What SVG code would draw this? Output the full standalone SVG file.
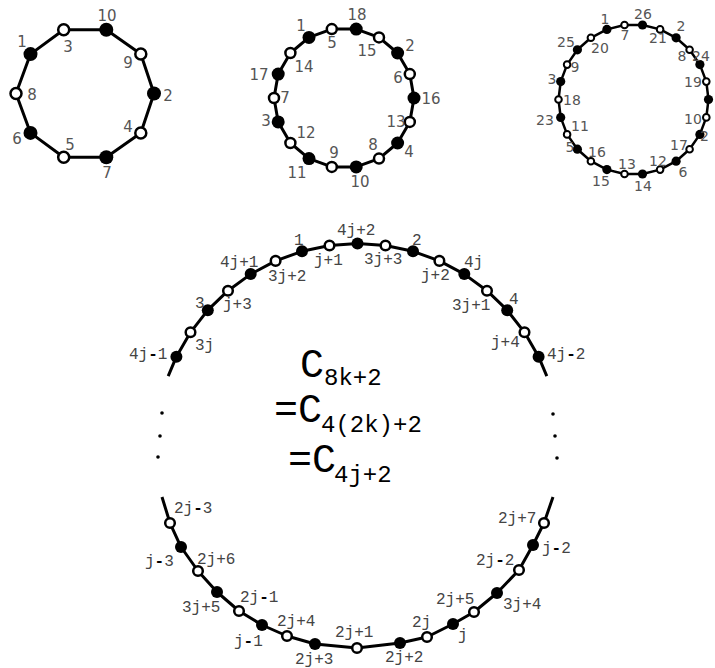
<svg xmlns="http://www.w3.org/2000/svg" width="715" height="668" viewBox="0 0 715 668">
<style>
.e{fill:none;stroke:#000;stroke-width:3;stroke-linejoin:round}
.e3{stroke-width:2.5}
.f{fill:#000}
.o{fill:#fff;stroke:#000;stroke-width:2.5}
.o3{stroke-width:2}
.ls{font-family:"DejaVu Sans",sans-serif;font-size:15px;fill:#555;text-anchor:middle}
.lt{font-family:"DejaVu Sans",sans-serif;font-size:14px;fill:#555;text-anchor:middle}
.lb{font-family:"Liberation Mono",monospace;font-size:16px;fill:#444}
.mn{fill:#000;font-weight:bold}
.big{font-family:"Liberation Mono",monospace;font-size:40px;fill:#000}
.sub{font-family:"Liberation Mono",monospace;font-size:24px;fill:#000}
</style>
<rect width="715" height="668" fill="#fff"/>
<g id="connectors">
<polygon class="e" points="63.7,29.8 106.3,29.8 140.8,54.1 154,93.5 140.8,132.9 106.3,157.2 63.7,157.2 30.5,132.9 16,93.5 30.5,54.1"/>
<polygon class="e" points="331.8,29.1 356.2,29.1 379,37.4 397.6,53 409.8,74.1 414,98 409.8,121.9 397.6,143 379,158.6 356.2,166.9 331.8,166.9 309,158.6 290.4,143 278.2,121.9 274,98 278.2,74.1 290.4,53 309,37.4"/>
<polygon class="e e3" points="624.5,25 642.5,25 660.1,29.4 676.1,37.8 689.6,49.8 699.9,64.6 706.3,81.6 708.5,99.5 706.3,117.4 699.9,134.4 689.6,149.2 676.1,161.2 660.1,169.6 642.5,174 624.5,174 606.9,169.6 590.9,161.2 577.4,149.2 567.1,134.4 560.7,117.4 558.5,99.5 560.7,81.6 567.1,64.6 577.4,49.8 590.9,37.8 606.9,29.4"/>
<polyline class="e" points="168.2,376.1 176.4,356.7 190.5,332.3 207.8,310.2 228,290.7 250.7,274.1 275.6,260.9 302,251.3 329.5,245.5 357.5,243.5 385.5,245.5 413,251.3 439.4,260.9 464.3,274.1 487,290.7 507.2,310.2 524.5,332.3 538.6,356.7 546.8,376.1"/>
<polyline class="e" points="162,497 170,523 181,547 198,571 217,592 239,611 262,625 287,636 315,644 357,648 400,643 427,637 453,624 474,612 497,593 519,570 533,545 544,523 553,497"/>
</g>
<g id="c10">
<g id="a3"><circle class="o" cx="63.7" cy="29.8" r="5.5"/><text class="ls" x="68" y="52">3</text></g>
<g id="a10"><circle class="f" cx="106.3" cy="29.8" r="7"/><text class="ls" x="107" y="21">10</text></g>
<g id="a9"><circle class="o" cx="140.8" cy="54.1" r="5.5"/><text class="ls" x="128" y="68">9</text></g>
<g id="a2"><circle class="f" cx="154" cy="93.5" r="7"/><text class="ls" x="168" y="101">2</text></g>
<g id="a4"><circle class="o" cx="140.8" cy="132.9" r="5.5"/><text class="ls" x="128" y="132">4</text></g>
<g id="a7"><circle class="f" cx="106.3" cy="157.2" r="7"/><text class="ls" x="107" y="178">7</text></g>
<g id="a5"><circle class="o" cx="63.7" cy="157.2" r="5.5"/><text class="ls" x="70" y="150">5</text></g>
<g id="a6"><circle class="f" cx="30.5" cy="132.9" r="7"/><text class="ls" x="17" y="144">6</text></g>
<g id="a8"><circle class="o" cx="16" cy="93.5" r="5.5"/><text class="ls" x="32" y="100">8</text></g>
<g id="a1"><circle class="f" cx="30.5" cy="54.1" r="7"/><text class="ls" x="22" y="47">1</text></g>
</g>
<g id="c18">
<g id="b5"><circle class="o" cx="331.8" cy="29.1" r="5"/><text class="ls" x="332" y="48">5</text></g>
<g id="b18"><circle class="f" cx="356.2" cy="29.1" r="6.5"/><text class="ls" x="357" y="20">18</text></g>
<g id="b15"><circle class="o" cx="379" cy="37.4" r="5"/><text class="ls" x="367" y="56">15</text></g>
<g id="b2"><circle class="f" cx="397.6" cy="53" r="6.5"/><text class="ls" x="410" y="51">2</text></g>
<g id="b6"><circle class="o" cx="409.8" cy="74.1" r="5"/><text class="ls" x="398" y="83">6</text></g>
<g id="b16"><circle class="f" cx="414" cy="98" r="6.5"/><text class="ls" x="431" y="104">16</text></g>
<g id="b13"><circle class="o" cx="409.8" cy="121.9" r="5"/><text class="ls" x="396" y="127">13</text></g>
<g id="b4"><circle class="f" cx="397.6" cy="143" r="6.5"/><text class="ls" x="409" y="157">4</text></g>
<g id="b8"><circle class="o" cx="379" cy="158.6" r="5"/><text class="ls" x="373" y="150">8</text></g>
<g id="b10"><circle class="f" cx="356.2" cy="166.9" r="6.5"/><text class="ls" x="360" y="187">10</text></g>
<g id="b9"><circle class="o" cx="331.8" cy="166.9" r="5"/><text class="ls" x="334" y="158">9</text></g>
<g id="b11"><circle class="f" cx="309" cy="158.6" r="6.5"/><text class="ls" x="297" y="178">11</text></g>
<g id="b12"><circle class="o" cx="290.4" cy="143" r="5"/><text class="ls" x="306" y="138">12</text></g>
<g id="b3"><circle class="f" cx="278.2" cy="121.9" r="6.5"/><text class="ls" x="266" y="126">3</text></g>
<g id="b7"><circle class="o" cx="274" cy="98" r="5"/><text class="ls" x="285" y="103">7</text></g>
<g id="b17"><circle class="f" cx="278.2" cy="74.1" r="6.5"/><text class="ls" x="259" y="80">17</text></g>
<g id="b14"><circle class="o" cx="290.4" cy="53" r="5"/><text class="ls" x="304" y="72">14</text></g>
<g id="b1"><circle class="f" cx="309" cy="37.4" r="6.5"/><text class="ls" x="301" y="31">1</text></g>
</g>
<g id="c26">
<g id="d7"><circle class="o o3" cx="624.5" cy="25" r="3.3"/><text class="lt" x="625" y="40">7</text></g>
<g id="d26"><circle class="f" cx="642.5" cy="25" r="4.6"/><text class="lt" x="643" y="19">26</text></g>
<g id="d21"><circle class="o o3" cx="660.1" cy="29.4" r="3.3"/><text class="lt" x="658" y="43">21</text></g>
<g id="d2"><circle class="f" cx="676.1" cy="37.8" r="4.6"/><text class="lt" x="681" y="31">2</text></g>
<g id="d8"><circle class="o o3" cx="689.6" cy="49.8" r="3.3"/><text class="lt" x="682" y="61">8</text></g>
<g id="d24"><circle class="f" cx="699.9" cy="64.6" r="4.6"/><text class="lt" x="701" y="61" text-anchor="start">24</text></g>
<g id="d19"><circle class="o o3" cx="706.3" cy="81.6" r="3.3"/><text class="lt" x="693" y="87">19</text></g>
<g id="d4"><circle class="f" cx="708.5" cy="99.5" r="4.6"/></g>
<g id="d10"><circle class="o o3" cx="706.3" cy="117.4" r="3.3"/><text class="lt" x="693" y="124">10</text></g>
<g id="d22"><circle class="f" cx="699.9" cy="134.4" r="4.6"/><text class="lt" x="704.5" y="141" text-anchor="start">2</text></g>
<g id="d17"><circle class="o o3" cx="689.6" cy="149.2" r="3.3"/><text class="lt" x="679" y="150">17</text></g>
<g id="d6"><circle class="f" cx="676.1" cy="161.2" r="4.6"/><text class="lt" x="683" y="177">6</text></g>
<g id="d12"><circle class="o o3" cx="660.1" cy="169.6" r="3.3"/><text class="lt" x="658" y="166">12</text></g>
<g id="d14"><circle class="f" cx="642.5" cy="174" r="4.6"/><text class="lt" x="643" y="191">14</text></g>
<g id="d13"><circle class="o o3" cx="624.5" cy="174" r="3.3"/><text class="lt" x="627" y="169">13</text></g>
<g id="d15"><circle class="f" cx="606.9" cy="169.6" r="4.6"/><text class="lt" x="601" y="186">15</text></g>
<g id="d16"><circle class="o o3" cx="590.9" cy="161.2" r="3.3"/><text class="lt" x="597" y="157">16</text></g>
<g id="d5"><circle class="f" cx="577.4" cy="149.2" r="4.6"/><text class="lt" x="570" y="152">5</text></g>
<g id="d11"><circle class="o o3" cx="567.1" cy="134.4" r="3.3"/><text class="lt" x="580" y="131">11</text></g>
<g id="d23"><circle class="f" cx="560.7" cy="117.4" r="4.6"/><text class="lt" x="545" y="125">23</text></g>
<g id="d18"><circle class="o o3" cx="558.5" cy="99.5" r="3.3"/><text class="lt" x="572" y="105">18</text></g>
<g id="d3"><circle class="f" cx="560.7" cy="81.6" r="4.6"/><text class="lt" x="552" y="84">3</text></g>
<g id="d9"><circle class="o o3" cx="567.1" cy="64.6" r="3.3"/><text class="lt" x="575" y="72">9</text></g>
<g id="d25"><circle class="f" cx="577.4" cy="49.8" r="4.6"/><text class="lt" x="566" y="47">25</text></g>
<g id="d20"><circle class="o o3" cx="590.9" cy="37.8" r="3.3"/><text class="lt" x="600" y="53">20</text></g>
<g id="d1"><circle class="f" cx="606.9" cy="29.4" r="4.6"/><text class="lt" x="605" y="24">1</text></g>
</g>
<g id="cbig">
<g id="u4jm1"><circle class="f" cx="176.4" cy="356.7" r="6"/><text class="lb" x="129" y="359">4j<tspan class="mn">-</tspan>1</text></g>
<g id="u3j"><circle class="o" cx="190.5" cy="332.3" r="4.8"/><text class="lb" x="195" y="350">3j</text></g>
<g id="u3"><circle class="f" cx="207.8" cy="310.2" r="6"/><text class="lb" x="195" y="308">3</text></g>
<g id="ujp3"><circle class="o" cx="228" cy="290.7" r="4.8"/><text class="lb" x="223" y="309">j+3</text></g>
<g id="u4jp1"><circle class="f" cx="250.7" cy="274.1" r="6"/><text class="lb" x="220" y="267">4j+1</text></g>
<g id="u3jp2"><circle class="o" cx="275.6" cy="260.9" r="4.8"/><text class="lb" x="268" y="281">3j+2</text></g>
<g id="u1"><circle class="f" cx="302" cy="251.3" r="6"/><text class="lb" x="294" y="245">1</text></g>
<g id="ujp1"><circle class="o" cx="329.5" cy="245.5" r="4.8"/><text class="lb" x="314" y="265">j+1</text></g>
<g id="u4jp2"><circle class="f" cx="357.5" cy="243.5" r="6"/><text class="lb" x="337" y="235">4j+2</text></g>
<g id="u3jp3"><circle class="o" cx="385.5" cy="245.5" r="4.8"/><text class="lb" x="364" y="264">3j+3</text></g>
<g id="u2"><circle class="f" cx="413" cy="251.3" r="6"/><text class="lb" x="412" y="245">2</text></g>
<g id="ujp2"><circle class="o" cx="439.4" cy="260.9" r="4.8"/><text class="lb" x="421" y="280">j+2</text></g>
<g id="u4j"><circle class="f" cx="464.3" cy="274.1" r="6"/><text class="lb" x="464" y="267">4j</text></g>
<g id="u3jp1"><circle class="o" cx="487" cy="290.7" r="4.8"/><text class="lb" x="452" y="310">3j+1</text></g>
<g id="u4"><circle class="f" cx="507.2" cy="310.2" r="6"/><text class="lb" x="509" y="304">4</text></g>
<g id="ujp4"><circle class="o" cx="524.5" cy="332.3" r="4.8"/><text class="lb" x="491" y="347">j+4</text></g>
<g id="u4jm2"><circle class="f" cx="538.6" cy="356.7" r="6"/><text class="lb" x="547" y="359">4j<tspan class="mn">-</tspan>2</text></g>
<g id="l2jm3"><circle class="o" cx="170" cy="523" r="4.8"/><text class="lb" x="174" y="513">2j<tspan class="mn">-</tspan>3</text></g>
<g id="ljm3"><circle class="f" cx="181" cy="547" r="6"/><text class="lb" x="145" y="566">j<tspan class="mn">-</tspan>3</text></g>
<g id="l2jp6"><circle class="o" cx="198" cy="571" r="4.8"/><text class="lb" x="197" y="564">2j+6</text></g>
<g id="l3jp5"><circle class="f" cx="217" cy="592" r="6"/><text class="lb" x="182" y="612">3j+5</text></g>
<g id="l2jm1"><circle class="o" cx="239" cy="611" r="4.8"/><text class="lb" x="240" y="602">2j<tspan class="mn">-</tspan>1</text></g>
<g id="ljm1"><circle class="f" cx="262" cy="625" r="6"/><text class="lb" x="234" y="646">j<tspan class="mn">-</tspan>1</text></g>
<g id="l2jp4"><circle class="o" cx="287" cy="636" r="4.8"/><text class="lb" x="277" y="626">2j+4</text></g>
<g id="l2jp3"><circle class="f" cx="315" cy="644" r="6"/><text class="lb" x="295" y="664">2j+3</text></g>
<g id="l2jp1"><circle class="o" cx="357" cy="648" r="4.8"/><text class="lb" x="335" y="637">2j+1</text></g>
<g id="l2jp2"><circle class="f" cx="400" cy="643" r="6"/><text class="lb" x="385" y="662">2j+2</text></g>
<g id="l2j"><circle class="o" cx="427" cy="637" r="4.8"/><text class="lb" x="412" y="627">2j</text></g>
<g id="lj"><circle class="f" cx="453" cy="624" r="6"/><text class="lb" x="458" y="640">j</text></g>
<g id="l2jp5"><circle class="o" cx="474" cy="612" r="4.8"/><text class="lb" x="436" y="604">2j+5</text></g>
<g id="l3jp4"><circle class="f" cx="497" cy="593" r="6"/><text class="lb" x="503" y="609">3j+4</text></g>
<g id="l2jm2"><circle class="o" cx="519" cy="570" r="4.8"/><text class="lb" x="476" y="565">2j<tspan class="mn">-</tspan>2</text></g>
<g id="ljm2"><circle class="f" cx="533" cy="545" r="6"/><text class="lb" x="542" y="553">j<tspan class="mn">-</tspan>2</text></g>
<g id="l2jp7"><circle class="o" cx="544" cy="523" r="4.8"/><text class="lb" x="498" y="523">2j+7</text></g>
</g>
<g id="dots">
<circle class="f" cx="162" cy="413" r="1.8"/><circle class="f" cx="160" cy="436" r="1.8"/><circle class="f" cx="158" cy="457" r="1.8"/>
<circle class="f" cx="553" cy="414" r="1.8"/><circle class="f" cx="555" cy="436" r="1.8"/><circle class="f" cx="557" cy="458" r="1.8"/>
</g>
<g id="formula">
<text class="big" x="300" y="377">C</text><text class="sub" x="324" y="385">8k+2</text>
<text class="big" x="274" y="422">=C</text><text class="sub" x="321" y="432">4(2k)+2</text>
<text class="big" x="288" y="472">=C</text><text class="sub" x="334" y="482">4j+2</text>
</g>
</svg>
